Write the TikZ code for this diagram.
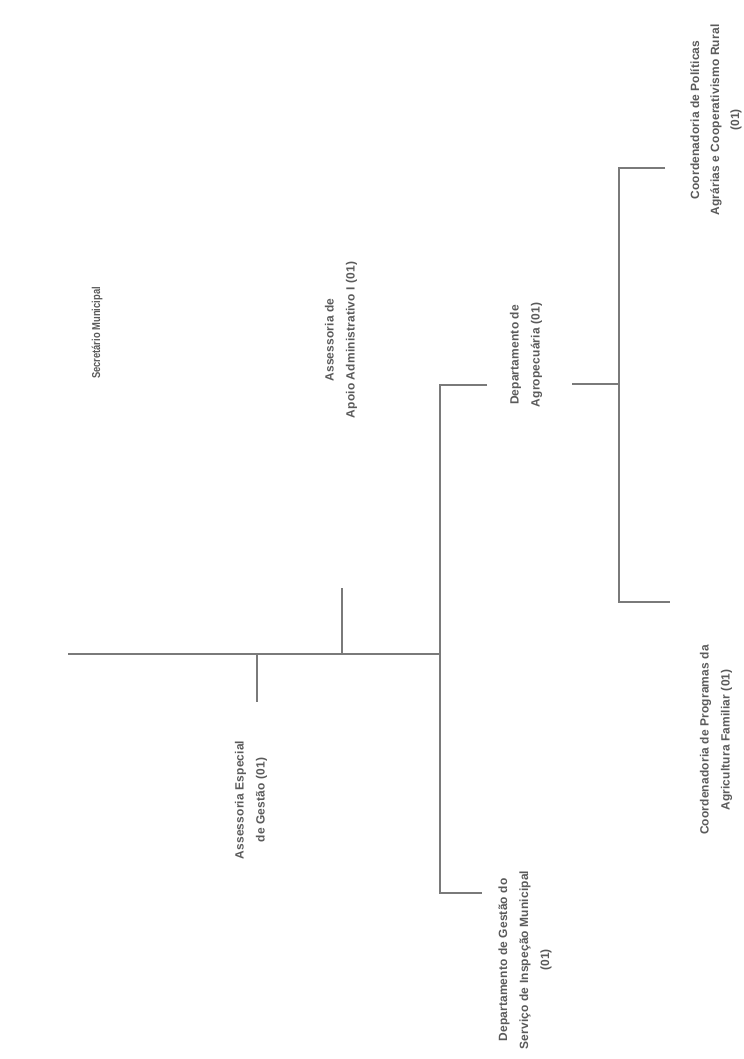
\documentclass[tikz,border=0pt]{standalone}
\usepackage{fontspec}
\setmainfont{Liberation Sans}[LetterSpace=1.5]
\definecolor{ink}{HTML}{5A5A5A}
\definecolor{wire}{HTML}{7A7A7A}
\begin{document}
\begin{tikzpicture}[x=1bp,y=-1bp,
  lbl/.style={rotate=90, align=center, text=ink, inner sep=0pt,
    font=\fontsize{12}{21}\selectfont\bfseries},
  conn/.style={draw=wire, line width=1.1bp}]
\useasboundingbox[fill=white] (0,0) rectangle (744,1059);
% labels
\node[lbl, font=\fontsize{11.5}{13}\selectfont\bfseries] (sec) at (97,333) {\addfontfeature{LetterSpace=0,FakeStretch=0.82}Secretário Municipal};
\node[lbl] (esp) at (251,800) {Assessoria Especial\\de Gestão (01)};
\node[lbl] (apo) at (341,340) {Assessoria de\\Apoio Administrativo I (01)};
\node[lbl] (agro) at (526,355) {Departamento de\\Agropecuária (01)};
\node[lbl] (gest) at (525,960) {Departamento de Gestão do\\Serviço de Inspeção Municipal\\(01)};
\node[lbl] (cpf) at (716,740) {Coordenadoria de Programas da\\Agricultura Familiar (01)};
\node[lbl, font=\fontsize{12}{20}\selectfont\bfseries] (cpa) at (716,120) {Coordenadoria de Políticas\\Agrárias e Cooperativismo Rural\\(01)};
% junction coordinates
\coordinate (s0) at (68,654);
\coordinate (jE) at (257,654);
\coordinate (eE) at (257,702);
\coordinate (jA) at (342,654);
\coordinate (eA) at (342,588);
\coordinate (jD) at (440,654);
\coordinate (v1t) at (440,385);
\coordinate (v1b) at (440,893);
\coordinate (b1t) at (487,385);
\coordinate (b1b) at (482,893);
\coordinate (dR) at (572,384);
\coordinate (v2m) at (619,384);
\coordinate (v2t) at (619,168);
\coordinate (v2b) at (619,602);
\coordinate (b2t) at (665,168);
\coordinate (b2b) at (670,602);
% connectors
\draw[conn] (s0) -- (jD);
\draw[conn] (jE) -- (eE);
\draw[conn] (jA) -- (eA);
\draw[conn] (b1t) -- (v1t) -- (v1b) -- (b1b);
\draw[conn] (dR) -- (v2m);
\draw[conn] (b2t) -- (v2t) -- (v2b) -- (b2b);
\end{tikzpicture}
\end{document}
